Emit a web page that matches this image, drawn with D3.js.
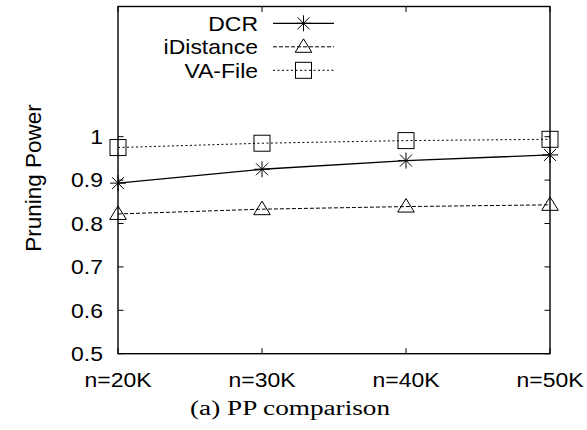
<!DOCTYPE html>
<html>
<head>
<meta charset="utf-8">
<script src="https://cdn.jsdelivr.net/npm/d3@7"></script>
<style>
  html, body { margin: 0; padding: 0; background: #fff; }
  svg { display: block; }
  text { fill: #000; }
  .sans { font-family: "Liberation Sans", Arial, sans-serif; }
  .serif { font-family: "Liberation Serif", "DejaVu Serif", serif; }
</style>
</head>
<body>
<svg id="chart" width="587" height="430"></svg>
<script>
// Dataset sizes on the x axis
const categories = ["n=20K", "n=30K", "n=40K", "n=50K"];
// Pruning power for each method
const dcr       = [0.893, 0.925, 0.945, 0.958];
const iDistance = [0.822, 0.833, 0.839, 0.843];
const vaFile    = [0.975, 0.985, 0.991, 0.994];
// Y axis tick labels
const yTicks = [0.5, 0.6, 0.7, 0.8, 0.9, 1];
const seriesNames = ["DCR", "iDistance", "VA-File"];

const svg = d3.select("#chart");
const frame = { left: 118, right: 550, top: 6.5, bottom: 353.7 };
const FS = 20.5, SX = 1.12;

const x = d3.scalePoint().domain(categories).range([frame.left, frame.right]);
const y = d3.scaleLinear().domain([0.5, 1.3]).range([frame.bottom, frame.top]);

const series = [
  { name: seriesNames[0], values: dcr,       dash: null,  marker: "star" },
  { name: seriesNames[1], values: iDistance, dash: "4,2", marker: "tri" },
  { name: seriesNames[2], values: vaFile,    dash: "2,2.5", marker: "sq" }
];

// helper for horizontally stretched sans text
function label(g, tx, ty, str, anchor, size, sx) {
  return g.append("text").attr("class", "sans")
    .attr("transform", `translate(${tx},${ty}) scale(${sx},1)`)
    .attr("text-anchor", anchor)
    .attr("font-size", size)
    .text(str);
}

function drawMarker(g, kind, cx, cy) {
  const m = g.append("g").attr("transform", `translate(${cx},${cy})`)
    .attr("fill", "none").attr("stroke", "#000").attr("stroke-width", 1);
  if (kind === "star") {
    const r = 8;
    m.append("path").attr("d",
      `M0,${-r}V${r}M${-r},0H${r}M${-r*0.75},${-r*0.75}L${r*0.75},${r*0.75}M${-r*0.75},${r*0.75}L${r*0.75},${-r*0.75}`);
  } else if (kind === "tri") {
    m.append("path").attr("d", "M0,-8L8.3,5.5H-8.3Z");
  } else {
    m.append("rect").attr("x", -8).attr("y", -8).attr("width", 16).attr("height", 16);
  }
}

// Tick marks (inward on all four sides)
const tickG = svg.append("g").attr("stroke", "#000").attr("stroke-width", 1);
yTicks.forEach(v => {
  tickG.append("line").attr("x1", frame.left).attr("x2", frame.left + 5.5)
    .attr("y1", y(v)).attr("y2", y(v));
  tickG.append("line").attr("x1", frame.right).attr("x2", frame.right - 5.5)
    .attr("y1", y(v)).attr("y2", y(v));
});
categories.forEach(c => {
  tickG.append("line").attr("x1", x(c)).attr("x2", x(c))
    .attr("y1", frame.bottom).attr("y2", frame.bottom - 5.5);
  tickG.append("line").attr("x1", x(c)).attr("x2", x(c))
    .attr("y1", frame.top).attr("y2", frame.top + 5.5);
});

// Tick labels
const labG = svg.append("g");
yTicks.forEach(v => {
  label(labG, 103, y(v) + FS * 0.36, d3.format("")(v), "end", FS, SX);
});
categories.forEach(c => {
  label(labG, x(c), 386.5, c, "middle", FS, SX);
});

// Axis title
svg.append("text").attr("class", "sans")
  .attr("transform", "translate(41,178) rotate(-90)")
  .attr("text-anchor", "middle")
  .attr("font-size", 22.5)
  .text("Pruning Power");

// Series lines and markers
const line = d3.line().x((d, i) => x(categories[i])).y(d => y(d));
const plotG = svg.append("g");
series.forEach(s => {
  plotG.append("path").datum(s.values).attr("d", line)
    .attr("fill", "none").attr("stroke", "#000").attr("stroke-width", s.dash ? 1 : 1.3)
    .attr("stroke-dasharray", s.dash);
  s.values.forEach((v, i) => drawMarker(plotG, s.marker, x(categories[i]), y(v)));
});

// Legend
const legG = svg.append("g");
series.forEach((s, i) => {
  const ly = 23.3 + i * 23.5;
  label(legG, 258, ly + FS * 0.36, s.name, "end", FS, SX);
  legG.append("line").attr("x1", 273).attr("x2", 334).attr("y1", ly).attr("y2", ly)
    .attr("stroke", "#000").attr("stroke-width", s.dash ? 1 : 1.3)
    .attr("stroke-dasharray", s.dash);
  drawMarker(legG, s.marker, 303.5, ly);
});

// Plot frame
svg.append("rect")
  .attr("x", frame.left).attr("y", frame.top)
  .attr("width", frame.right - frame.left).attr("height", frame.bottom - frame.top)
  .attr("fill", "none").attr("stroke", "#000").attr("stroke-width", 1.4);

// Caption
svg.append("text").attr("class", "serif")
  .attr("x", 290).attr("y", 415)
  .attr("text-anchor", "middle")
  .attr("font-size", 20)
  .attr("textLength", 200).attr("lengthAdjust", "spacingAndGlyphs")
  .text("(a) PP comparison");
</script>
</body>
</html>
